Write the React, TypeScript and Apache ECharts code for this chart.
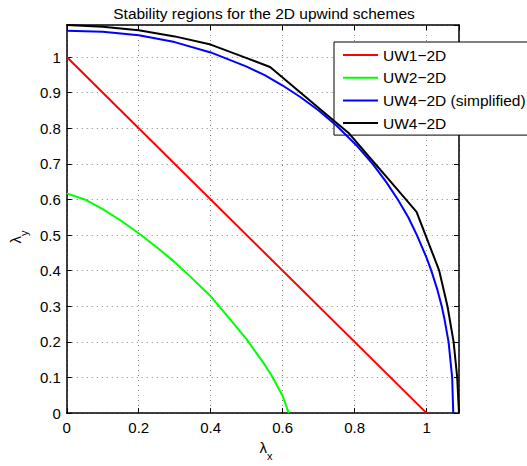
import React, { useEffect, useRef } from "react";
import * as echarts from "echarts";

const TITLE = "Stability regions for the 2D upwind schemes";
const SERIES_NAMES = ["UW1−2D", "UW2−2D", "UW4−2D (simplified)", "UW4−2D"];
const COLORS = ["#ff0000", "#00ff00", "#0000ff", "#000000"];

const X_TICKS = [0, 0.2, 0.4, 0.6, 0.8, 1];
const Y_TICKS = [0, 0.1, 0.2, 0.3, 0.4, 0.5, 0.6, 0.7, 0.8, 0.9, 1];
const AXIS_MAX = 1.09;

const uw1X = [0, 1];
const uw1Y = [1, 0];

const uw2X = [0, 0.05, 0.1, 0.15, 0.2, 0.25, 0.3, 0.35, 0.4, 0.45, 0.5, 0.55, 0.57, 0.6, 0.617];
const uw2Y = [0.617, 0.6, 0.573, 0.541, 0.505, 0.466, 0.424, 0.377, 0.328, 0.268, 0.207, 0.136, 0.104, 0.048, 0];

const uw4sX = [0, 0.1, 0.2, 0.3, 0.4, 0.5, 0.55, 0.6, 0.65, 0.7, 0.75, 0.807, 0.85, 0.887, 0.92, 0.949, 0.973, 1.0, 1.013, 1.03, 1.042, 1.05, 1.061, 1.071, 1.074];
const uw4sY = [1.074, 1.071, 1.061, 1.042, 1.013, 0.973, 0.949, 0.92, 0.887, 0.85, 0.807, 0.75, 0.7, 0.65, 0.6, 0.55, 0.5, 0.436, 0.4, 0.346, 0.3, 0.262, 0.2, 0.1, 0];

const uw4X = [0, 0.1, 0.2, 0.3, 0.4, 0.5, 0.565, 0.65, 0.72, 0.785, 0.84, 0.9, 0.972, 0.997, 1.035, 1.058, 1.075, 1.085, 1.09];
const uw4Y = [1.09, 1.085, 1.075, 1.058, 1.035, 0.997, 0.972, 0.9, 0.84, 0.785, 0.72, 0.65, 0.565, 0.5, 0.4, 0.3, 0.2, 0.1, 0];

const FONT = "'Liberation Sans', Arial, Helvetica, sans-serif";

function pairs(xs: number[], ys: number[]) {
  return xs.map((x, i) => [x, ys[i]]);
}

export default function App() {
  const ref = useRef<HTMLDivElement>(null);
  useEffect(() => {
    if (!ref.current) return;
    const chart = echarts.init(ref.current, undefined, { renderer: "svg" });
    const gridLine = { show: true, lineStyle: { color: "#808080", width: 1, type: [1, 4] as any } };
    const axisLine = { show: true, onZero: false, lineStyle: { color: "#000", width: 1.5 } };
    const tick = { show: true, inside: true, length: 5, lineStyle: { color: "#000", width: 1 } };
    const label = { color: "#000", fontSize: 15, fontFamily: FONT, showMaxLabel: false };
    const datas = [pairs(uw1X, uw1Y), pairs(uw2X, uw2Y), pairs(uw4sX, uw4sY), pairs(uw4X, uw4Y)];
    const nameRich = {
      l: { fontSize: 15, fontFamily: FONT, color: "#000", verticalAlign: "top", lineHeight: 21 },
      s: { fontSize: 11, fontFamily: FONT, color: "#000", verticalAlign: "bottom", lineHeight: 21 },
    };
    chart.setOption({
      animation: false,
      backgroundColor: "#fff",
      title: {
        text: TITLE,
        left: 259,
        textAlign: "center",
        top: 0,
        textStyle: { fontSize: 15.5, fontWeight: "normal", color: "#000", fontFamily: FONT },
      },
      grid: { left: 62, top: 25, right: 68, bottom: 45, containLabel: false },
      legend: {
        orient: "vertical",
        left: 334,
        top: 42,
        padding: [5, 2, 4, 8],
        itemWidth: 35,
        itemHeight: 14,
        itemGap: 6.7,
        backgroundColor: "#fff",
        borderColor: "#000",
        borderWidth: 1,
        borderRadius: 0,
        itemStyle: { opacity: 0 },
        textStyle: { fontSize: 15.5, color: "#000", fontFamily: FONT, lineHeight: 14 },
        data: SERIES_NAMES,
      },
      xAxis: [
        {
          type: "value",
          min: 0,
          max: AXIS_MAX,
          interval: X_TICKS[1] - X_TICKS[0],
          axisLine,
          axisTick: tick,
          axisLabel: { ...label, margin: 7 },
          splitLine: gridLine,
          name: "{l|λ}{s|x}",
          nameLocation: "middle",
          nameGap: 17,
          nameTextStyle: { padding: [0, 0, 0, 6], rich: nameRich },
        },
        {
          type: "value",
          position: "top",
          min: 0,
          max: AXIS_MAX,
          interval: X_TICKS[1] - X_TICKS[0],
          axisLine,
          axisTick: tick,
          axisLabel: { show: false },
          splitLine: { show: false },
        },
      ],
      yAxis: [
        {
          type: "value",
          min: 0,
          max: AXIS_MAX,
          interval: Y_TICKS[1] - Y_TICKS[0],
          axisLine,
          axisTick: tick,
          axisLabel: { ...label, margin: 6 },
          splitLine: gridLine,
          name: "{l|λ}{s|y}",
          nameLocation: "middle",
          nameGap: 36,
          nameRotate: 90,
          nameTextStyle: { padding: [0, 36, 0, 0], rich: nameRich },
        },
        {
          type: "value",
          position: "right",
          min: 0,
          max: AXIS_MAX,
          interval: Y_TICKS[1] - Y_TICKS[0],
          axisLine,
          axisTick: tick,
          axisLabel: { show: false },
          splitLine: { show: false },
        },
      ],
      series: SERIES_NAMES.map((name, i) => ({
        name,
        type: "line",
        data: datas[i],
        symbol: "none",
        smooth: false,
        clip: false,
        color: COLORS[i],
        lineStyle: { color: COLORS[i], width: 2 },
        z: 2 + i,
      })),
    });
    return () => chart.dispose();
  }, []);
  return <div ref={ref} style={{ width: 527, height: 466, position: "absolute", left: 0, top: 0 }} />;
}
